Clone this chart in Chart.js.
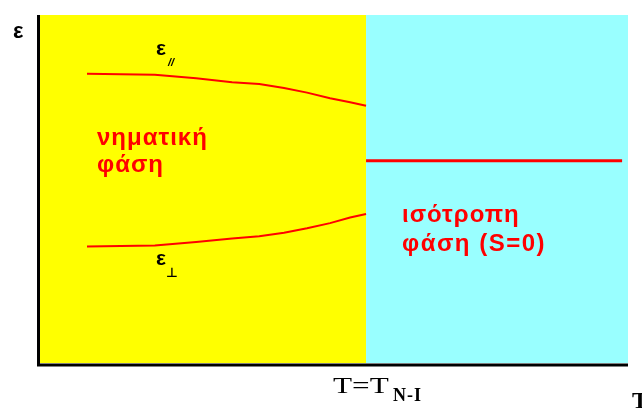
<!DOCTYPE html>
<html>
<head>
<meta charset="utf-8">
<script src="https://cdn.jsdelivr.net/npm/chart.js@4/dist/chart.umd.min.js"></script>
<style>
  html, body { margin: 0; padding: 0; background: #fff; }
  #plot { display: block; }
</style>
</head>
<body>
<canvas id="plot" width="642" height="410"></canvas>
<script>
// temperature axis (arbitrary units), transition point and dielectric curves
const tNI = 55.6;
const tNematic = [8.3, 19.8, 26.8, 32.9, 37.5, 41.7, 45.6, 49.5, 52.9, 55.6];
const epsParallel = [83.1, 82.8, 81.8, 80.7, 80.2, 79.0, 77.7, 76.1, 74.9, 73.9];
const epsPerp = [33.5, 33.8, 34.8, 35.8, 36.4, 37.4, 38.7, 40.2, 41.8, 42.8];
const tIso = [55.6, 99.0];
const epsIso = [58.1, 58.1];

const nematicLabel = ['νηματική', 'φάση'];
const isoLabel = ['ισότροπη', 'φάση (S=0)'];

const red = '#ff0000';
const yellow = '#ffff00';
const cyan = '#99ffff';

function pts(xs, ys) {
    return xs.map((x, i) => ({ x: x, y: ys[i] }));
}

// yellow / cyan phase regions behind the curves
const phaseBackground = {
    id: 'phaseBackground',
    beforeDatasetsDraw(chart) {
        const { ctx, chartArea, scales } = chart;
        const xm = scales.x.getPixelForValue(tNI);
        ctx.save();
        ctx.fillStyle = yellow;
        ctx.fillRect(chartArea.left, chartArea.top, xm - chartArea.left, chartArea.bottom - chartArea.top);
        ctx.fillStyle = cyan;
        ctx.fillRect(xm, chartArea.top, chartArea.right - xm, chartArea.bottom - chartArea.top);
        ctx.restore();
    }
};

// axes lines and all the text
const decorations = {
    id: 'decorations',
    afterDraw(chart) {
        const { ctx, chartArea } = chart;
        ctx.save();
        ctx.strokeStyle = '#000';
        ctx.lineWidth = 3;
        ctx.beginPath();
        ctx.moveTo(chartArea.left + 0.5, chartArea.top);
        ctx.lineTo(chartArea.left + 0.5, chartArea.bottom + 2);
        ctx.lineTo(chartArea.right, chartArea.bottom + 2);
        ctx.stroke();

        ctx.textBaseline = 'alphabetic';
        ctx.fillStyle = '#000';
        ctx.font = 'bold 22px "Liberation Sans", Arial, sans-serif';
        ctx.fillText('ε', 13, 38);
        ctx.font = 'bold 21px "Liberation Sans", Arial, sans-serif';
        ctx.fillText('ε', 156, 55);
        ctx.fillText('ε', 156, 265);
        ctx.font = 'italic bold 11px "Liberation Sans", Arial, sans-serif';
        ctx.fillText('//', 168, 66);
        ctx.font = 'bold 13px "DejaVu Sans", sans-serif';
        ctx.fillText('⊥', 166, 277);

        ctx.fillStyle = red;
        ctx.font = 'bold 24px "Liberation Sans", Arial, sans-serif';
        ctx.letterSpacing = '1px';
        ctx.fillText(nematicLabel[0], 97, 145);
        ctx.fillText(nematicLabel[1], 97, 172);
        ctx.fillText(isoLabel[0], 402, 222);
        ctx.letterSpacing = '1.5px';
        ctx.fillText(isoLabel[1], 402, 251);

        // T = T_N-I under the transition, a bit stretched sideways
        ctx.fillStyle = '#000';
        ctx.letterSpacing = '0px';
        ctx.font = '24px "Liberation Serif", "Times New Roman", serif';
        ctx.save();
        ctx.translate(333, 393);
        ctx.scale(1.3, 1);
        ctx.fillText('T=T', 0, 0);
        ctx.restore();
        ctx.font = 'bold 18px "Liberation Serif", "Times New Roman", serif';
        ctx.letterSpacing = '1px';
        ctx.fillText('N-I', 393, 401);
        ctx.letterSpacing = '0px';
        ctx.font = 'bold 24px "Liberation Serif", "Times New Roman", serif';
        ctx.textAlign = 'center';
        ctx.fillText('T', 640, 408);
        ctx.restore();
    }
};

const line = (data, width) => ({
    data: data,
    borderColor: red,
    borderWidth: width,
    pointRadius: 0,
    tension: 0,
    fill: false
});

new Chart(document.getElementById('plot'), {
    type: 'line',
    data: {
        datasets: [
            line(pts(tNematic, epsParallel), 2),
            line(pts(tNematic, epsPerp), 2),
            line(pts(tIso, epsIso), 3)
        ]
    },
    options: {
        responsive: false,
        animation: false,
        layout: { padding: { left: 38, top: 15, right: 14, bottom: 47 } },
        plugins: { legend: { display: false }, tooltip: { enabled: false } },
        scales: {
            x: { type: 'linear', display: false, min: 0, max: 100 },
            y: { type: 'linear', display: false, min: 0, max: 100 }
        }
    },
    plugins: [phaseBackground, decorations]
});
</script>
</body>
</html>
